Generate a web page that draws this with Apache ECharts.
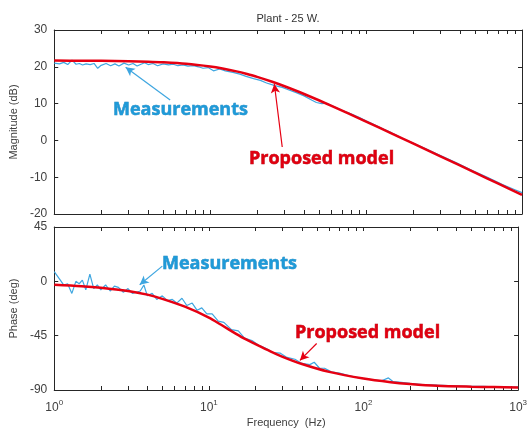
<!DOCTYPE html>
<html>
<head>
<meta charset="utf-8">
<script src="https://cdn.jsdelivr.net/npm/echarts@6/dist/echarts.min.js"></script>
<style>
html,body{margin:0;padding:0;background:#fff}
#main{width:530px;height:432px}
</style>
</head>
<body>
<div id="main"></div>
<script>
// measured frequencies (Hz)
let measFreq=[1,1.08,1.15,1.22,1.3,1.38,1.45,1.52,1.6,1.7,1.8,1.9,2.0,2.15,2.3,2.45,2.6,2.8,3.0,3.2,3.4,3.6,3.8,4.0,4.3,4.6,5.0,5.4,5.8,6.2,6.7,7.2,7.8,8.4,9.0,9.7,10.5,11.5,12.5,14,15.5,17,19,21,23,26,29,32,36,40,45,48,52,56,62,70,80,90,100,115,130,145,155,170,200,240,300,380,480,600,750,900,1000]
let measMag=[21.0,20.8,21.2,20.6,21.8,20.7,20.9,20.5,20.8,20.6,20.9,19.6,20.4,20.9,20.3,20.8,20.2,21.0,20.5,20.9,20.2,20.7,21.1,20.6,20.9,20.3,20.8,20.5,20.7,20.3,20.5,20.2,20.3,20.0,19.6,19.8,18.9,19.4,18.9,18.5,18.0,17.4,16.8,16.3,15.6,14.9,14.4,13.7,12.9,12.1,10.9,10.3,10.0,10.1,9.2,8.2,7.2,6.3,5.3,4.1,3.0,2.1,1.5,0.6,-0.7,-2.2,-4.1,-6.1,-8.2,-10.0,-12.0,-13.4,-14.2]
let measPhase=[8,2,-3,-2,-10,0,-2,1,-7,6,-6,-3,-7,-3,-8,-4,-5,-9,-6,-10,-9,-8,-3,-12,-10,-15,-12,-16,-15,-18,-14,-20,-18,-24,-22,-27,-27,-33,-34,-40,-41,-47,-49,-53,-55,-59,-59.5,-63,-64.5,-68,-69,-67,-72,-72,-75,-76,-78,-79.5,-80.5,-81.5,-82.5,-80,-83,-83.5,-84.5,-85.5,-86,-86.5,-87,-87,-87.5,-87.5,-87.5]
// proposed model
let modelFreq=[1,1.5,2,3,4,5,7,10,12,15,17,20,25,30,40,60,100,150,200,300,500,700,1000]
let modelMag=[21.68,21.66,21.62,21.53,21.4,21.24,20.84,20.1,19.55,18.69,18.1,17.26,15.93,14.71,12.61,9.4,5.13,1.66,-0.82,-4.33,-8.76,-11.68,-14.78]
let modelPhase=[-2.8,-4,-5.3,-8,-11,-14.5,-21,-30,-36,-43.5,-47.5,-52,-58,-62.5,-68.5,-75,-80.5,-83.5,-85,-86.5,-87.3,-87.6,-88]
// axis ticks
let decadeTicks=[1,10,100,1000]
let minorTicks=[1,2,3,4,5,6,7,8,9,10,20,30,40,50,60,70,80,90,100,200,300,400,500,600,700,800,900,1000]

let blue='#3ea6e0'
let red='#e60012'
let axisColor='#262626'
let labelColor='#404040'

function pairs(xs,ys){ return xs.map((x,i)=>[x,ys[i]]) }

let chart=echarts.init(document.getElementById('main'))

function xAx(grid,pos,showLabel,name){
    return {
        type:'log', logBase:10, gridIndex:grid, position:pos, min:1, max:1000,
        axisLine:{show:true,onZero:false,lineStyle:{color:axisColor,width:1}},
        axisTick:{show:true,inside:true,length:4,customValues:minorTicks,lineStyle:{color:axisColor}},
        minorTick:{show:false},
        splitLine:{show:false},
        axisLabel:{
            show:showLabel, customValues:decadeTicks, margin:9, color:labelColor,
            formatter:function(v){ return '{b|10}{s|'+Math.round(Math.log10(v))+'}' },
            rich:{b:{fontSize:12,fontFamily:'Liberation Sans',color:labelColor},
                  s:{fontSize:8,fontFamily:'Liberation Sans',color:labelColor,padding:[0,0,9,0]}}
        },
        name:name||'', nameLocation:'middle', nameGap:27,
        nameTextStyle:{fontSize:11,fontFamily:'Liberation Sans',color:labelColor}
    }
}
function yAx(grid,pos,min,max,interval,showLabel,name){
    return {
        type:'value', gridIndex:grid, position:pos, min:min, max:max, interval:interval,
        axisLine:{show:true,onZero:false,lineStyle:{color:axisColor,width:1}},
        axisTick:{show:true,inside:true,length:4,lineStyle:{color:axisColor}},
        splitLine:{show:false},
        axisLabel:{show:showLabel,margin:7,fontSize:12,fontFamily:'Liberation Sans',color:labelColor},
        name:name||'', nameLocation:'middle', nameGap:33, nameRotate:90,
        nameTextStyle:{fontSize:11,fontFamily:'Liberation Sans',color:labelColor}
    }
}

function arrow(color,from,to){
    return {
        silent:true, symbol:['none','arrow'], symbolSize:[7,9],
        lineStyle:{color:color,width:1.2,type:'solid'},
        label:{show:false},
        data:[[{coord:from},{coord:to}]]
    }
}

let annoFont="bold 18px 'Open Sans'"
let blueText={font:annoFont,fill:'#1f9ad8',stroke:'#1a7fb8',lineWidth:0.5,verticalAlign:'middle'}
let redText={font:annoFont,fill:'#e00010',stroke:'#a8000c',lineWidth:0.5,verticalAlign:'middle'}
chart.setOption({
    animation:false,
    backgroundColor:'#fff',
    title:{
        text:'Plant - 25 W.', left:283, top:8, textAlign:'center',
        textStyle:{fontSize:11,fontWeight:'normal',fontFamily:'Liberation Sans',color:'#333'}
    },
    grid:[
        {left:50,top:30,width:472,height:184},
        {left:50,top:227,width:472,height:163}
    ],
    xAxis:[
        xAx(0,'bottom',false),
        xAx(0,'top',false),
        xAx(1,'bottom',true,'Frequency  (Hz)'),
        xAx(1,'top',false)
    ],
    yAxis:[
        yAx(0,'left',-20,30,10,true,'Magnitude (dB)'),
        yAx(0,'right',-20,30,10,false),
        yAx(1,'left',-90,45,45,true,'Phase (deg)'),
        yAx(1,'right',-90,45,45,false)
    ],
    series:[
        {type:'line',xAxisIndex:0,yAxisIndex:0,data:pairs(measFreq,measMag),showSymbol:false,
         lineStyle:{color:blue,width:1.2},itemStyle:{color:blue},
         markLine:arrow(blue,[5.54,11.0],[2.87,19.9])},
        {type:'line',xAxisIndex:0,yAxisIndex:0,data:pairs(modelFreq,modelMag),showSymbol:false,smooth:0.3,
         lineStyle:{color:red,width:2.5},itemStyle:{color:red},
         markLine:arrow(red,[29,-1.8],[25.8,15.3])},
        {type:'line',xAxisIndex:2,yAxisIndex:2,data:pairs(measFreq,measPhase),showSymbol:false,
         lineStyle:{color:blue,width:1.2},itemStyle:{color:blue},
         markLine:arrow(blue,[5.0,12.6],[3.57,-2.8])},
        {type:'line',xAxisIndex:2,yAxisIndex:2,data:pairs(modelFreq,modelPhase),showSymbol:false,smooth:0.3,
         lineStyle:{color:red,width:2.5},itemStyle:{color:red},
         markLine:arrow(red,[49.8,-51.5],[38.8,-65.5])}
    ],
    graphic:[
        {type:'text',silent:true,style:Object.assign({x:113,y:110,text:'Measurements'},blueText)},
        {type:'text',silent:true,style:Object.assign({x:249,y:159,text:'Proposed model'},redText)},
        {type:'text',silent:true,style:Object.assign({x:162,y:264,text:'Measurements'},blueText)},
        {type:'text',silent:true,style:Object.assign({x:295,y:333,text:'Proposed model'},redText)}
    ]
})
</script>
</body>
</html>
